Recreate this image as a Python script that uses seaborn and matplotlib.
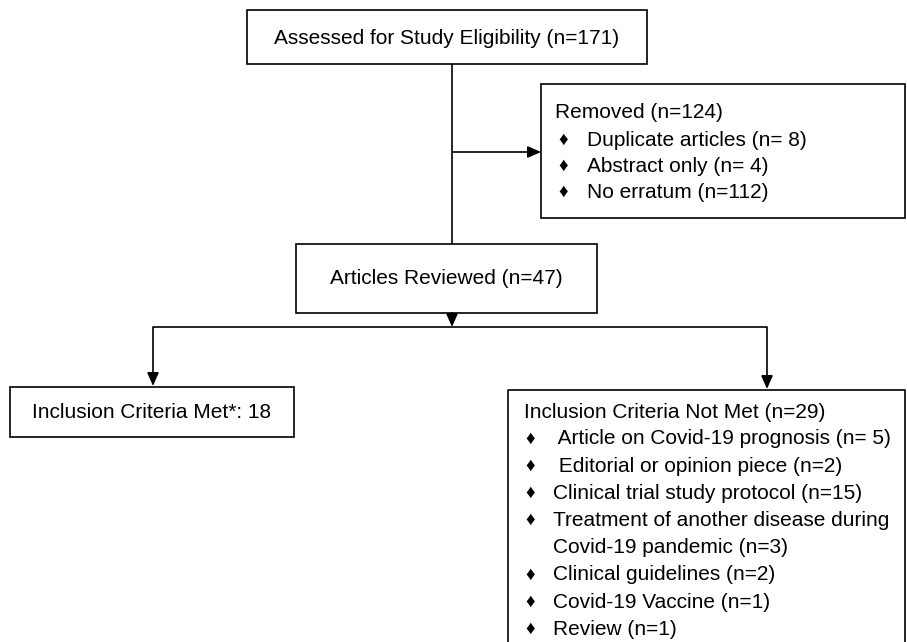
import matplotlib
matplotlib.use("Agg")
import matplotlib.pyplot as plt
import seaborn as sns
from matplotlib.patches import Rectangle

sns.set_style("white")
plt.rcParams['font.family'] = ['Liberation Sans', 'DejaVu Sans']
plt.rcParams['text.color'] = 'black'

# ---- data ----
total_assessed = 171
removed_total = 124
removed_labels = ["Duplicate articles (n= 8)", "Abstract only (n= 4)", "No erratum (n=112)"]
reviewed = 47
met = 18
not_met_total = 29
not_met_labels = [" Article on Covid-19 prognosis (n= 5)",
                  " Editorial or opinion piece (n=2)",
                  "Clinical trial study protocol (n=15)",
                  "Treatment of another disease during\nCovid-19 pandemic (n=3)",
                  "Clinical guidelines (n=2)",
                  "Covid-19 Vaccine (n=1)",
                  "Review (n=1)"]

W, H = 907, 642
fig = plt.figure(figsize=(W / 100, H / 100), dpi=100)
ax = fig.add_axes([0, 0, 1, 1])
ax.set_xlim(0, W)
ax.set_ylim(H, 0)
ax.axis("off")

FS = 15.0
lw = 1.2

def box(x0, y0, x1, y1):
    ax.add_patch(Rectangle((x0, y0), x1 - x0, y1 - y0, fill=False, ec="black", lw=lw))

def line(xs, ys):
    ax.plot(xs, ys, color="black", lw=lw, solid_capstyle="butt")

def arrow(x0, y0, x1, y1):
    ax.annotate("", xy=(x1, y1), xytext=(x0, y0),
                arrowprops=dict(arrowstyle="-|>,head_length=0.8,head_width=0.35",
                                color="black", lw=lw, shrinkA=0, shrinkB=0))

def bullet(x, y):
    ax.text(x, y, "\u2666", ha="center", va="center", fontsize=FS * 0.9, color="black")

# top box
box(247, 10, 647, 64)
ax.text(447, 38, f"Assessed for Study Eligibility (n={total_assessed})", ha="center", va="center", fontsize=FS)

# vertical trunk
line([452, 452], [64, 244])
arrow(452, 152, 541, 152)

# removed box
box(541, 84, 905, 218)
ax.text(555, 113, f"Removed (n={removed_total})", ha="left", va="center", fontsize=FS)
for i, lab in enumerate(removed_labels):
    y = 140 + i * 26
    bullet(563, y)
    ax.text(587, y, lab, ha="left", va="center", fontsize=FS)

# articles reviewed
box(296, 244, 597, 313)
ax.text(446, 279, f"Articles Reviewed (n={reviewed})", ha="center", va="center", fontsize=FS)

arrow(452, 313, 452, 327)
line([153, 767], [327, 327])
arrow(153, 327, 153, 386)
arrow(767, 327, 767, 389)

# met box
box(10, 387, 294, 437)
ax.text(32, 412, f"Inclusion Criteria Met*: {met}", ha="left", va="center", fontsize=FS)

# not met box (bottom cut off)
line([508, 508, 905, 905], [H + 5, 390, 390, H + 5])
ax.text(524, 413, f"Inclusion Criteria Not Met (n={not_met_total})", ha="left", va="center", fontsize=FS)
y = 439
for lab in not_met_labels:
    bullet(530, y)
    lines = lab.split("\n")
    for j, l in enumerate(lines):
        ax.text(553, y + j * 27.2, l, ha="left", va="center", fontsize=FS)
    y += 27.2 * len(lines)

fig.savefig("out.png", dpi=100, facecolor="white")
